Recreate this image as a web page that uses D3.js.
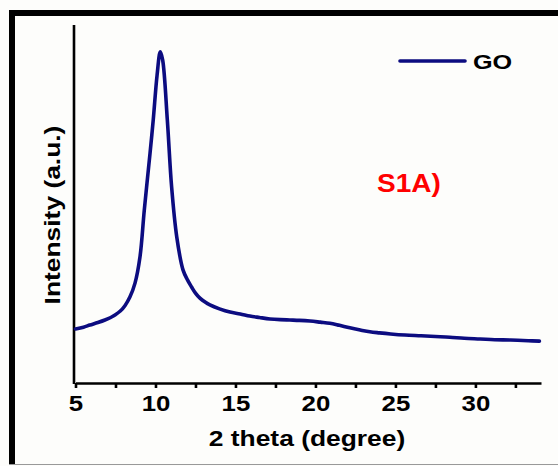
<!DOCTYPE html>
<html><head><meta charset="utf-8">
<script src="https://cdn.jsdelivr.net/npm/d3@7"></script>
<style>body{margin:0;background:#fff}svg{display:block}</style></head>
<body><svg id="c" width="558" height="466"></svg>
<script>
// ---- data ----
const twoTheta = [5.0,5.5,5.9,6.4,6.84,7.2,7.47,7.8,8.09,8.4,8.72,9.03,9.3,9.66,9.86,10.1,10.3,10.45,10.74,11.01,11.33,11.72,12.0,12.26,12.5,12.78,13.1,13.4,14.0,14.66,15.3,15.9,16.5,17.16,17.8,18.4,19.0,19.66,20.3,20.9,21.5,22.15,22.8,23.4,24.0,24.7,25.6,26.6,27.5,28.4,29.3,30.3,31.2,32.2,33.3,34.0];
const intensity = [151,156,162,169,176,183,190,201,216,240,279,352,483,642,735,860,925,902,735,547,408,316,288,268,251,237,226,218,207,198,193,187,183,179,177,176,175,173,170,167,161,154,148,143,140,137,134,132,130,128,125,123,121,120,118,117];
const majorTicks = [5,10,15,20,25,30];
const minorTicks = [7.5,12.5,17.5,22.5,27.5,32.5];
const seriesName = "GO";
const panelLabel = "S1A)";
const xTitle = "2 theta (degree)";
const yTitle = "Intensity (a.u.)";

const svg = d3.select("#c");
const FONT = "'Liberation Sans', Arial, sans-serif";
const SX = 1.2;

svg.append("rect").attr("width",558).attr("height",466).attr("fill","#fdfdfb");
// frame
svg.append("rect").attr("x",9).attr("y",10).attr("width",549).attr("height",6).attr("fill","#000");
svg.append("rect").attr("x",9).attr("y",10).attr("width",6).attr("height",454).attr("fill","#000");
svg.append("line").attr("x1",9).attr("x2",558).attr("y1",464.5).attr("y2",464.5).attr("stroke","#999").attr("stroke-width",1);

const x = d3.scaleLinear().domain([5,34.1]).range([75.5,541]);
const y = d3.scaleLinear().domain([0,1000]).range([383,25]);

// x axis
const xa = svg.append("g").attr("transform","translate(0,383)")
  .call(d3.axisBottom(x).tickValues(majorTicks.concat(minorTicks).sort((a,b)=>a-b))
    .tickSize(5).tickSizeOuter(0).tickPadding(8)
    .tickFormat(d => majorTicks.includes(d) ? d : ""));
xa.select(".domain").attr("stroke","#000").attr("stroke-width",2.6);
xa.selectAll(".tick line").attr("stroke","#000").attr("stroke-width",2.6);
xa.selectAll(".tick text").attr("fill","#000").style("font-family",FONT)
  .style("font-size","21.5px").style("font-weight","bold").attr("transform",`scale(${SX},1)`);

// y axis (no ticks)
svg.append("line").attr("x1",74).attr("x2",74).attr("y1",y(1000)).attr("y2",384)
  .attr("stroke","#000").attr("stroke-width",2.6);

// titles
svg.append("text").attr("transform",`translate(307,446) scale(${SX},1)`).attr("text-anchor","middle")
  .style("font-family",FONT).style("font-size","22px").style("font-weight","bold").text(xTitle);
svg.append("text").attr("transform",`translate(60,215) rotate(-90) scale(${SX},1)`).attr("text-anchor","middle")
  .style("font-family",FONT).style("font-size","22px").style("font-weight","bold").text(yTitle);

// series
const line = d3.line().x((d,i)=>x(twoTheta[i])).y(d=>y(d)).curve(d3.curveCatmullRom.alpha(0.5));
svg.append("path").datum(intensity).attr("d",line).attr("fill","none")
  .attr("stroke","#0c0c80").attr("stroke-width",3.6).attr("stroke-linejoin","round").attr("stroke-linecap","round");

// legend
svg.append("line").attr("x1",400).attr("x2",465).attr("y1",61).attr("y2",61)
  .attr("stroke","#0c0c80").attr("stroke-width",3.6).attr("stroke-linecap","round");
svg.append("text").attr("transform",`translate(473,69) scale(${SX},1)`)
  .style("font-family",FONT).style("font-size","21px").style("font-weight","bold").text(seriesName);

// panel label
svg.append("text").attr("transform",`translate(377,192) scale(1.12,1)`).attr("fill","#ff0000")
  .style("font-family",FONT).style("font-size","25px").style("font-weight","bold").text(panelLabel);
</script></body></html>
